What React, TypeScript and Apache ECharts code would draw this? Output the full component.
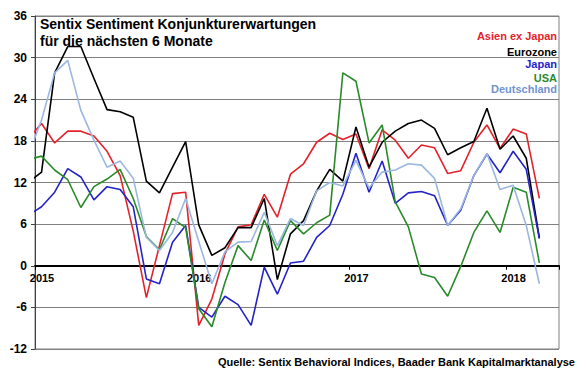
import React, { useEffect, useRef } from "react";
import * as echarts from "echarts";

// Monthly values, Dec 2014 (clipped at the left edge) through Mar 2018
const asienExJapan = [18.3, 20.5, 17.7, 19.4, 19.4, 18.7, 16.5, 13.0, 5.0, -4.6, 2.9, 10.4, 10.6, -8.6, -4.8, 1.7, 5.6, 5.9, 10.3, 7.0, 13.2, 14.7, 17.8, 19.1, 18.2, 19.0, 14.0, 19.6, 18.1, 15.5, 17.4, 17.0, 13.3, 13.7, 17.8, 20.3, 16.9, 19.7, 19.0, 9.7];
const eurozone = [12.0, 13.5, 27.8, 31.6, 31.6, 27.0, 22.5, 22.2, 21.4, 12.2, 10.5, 14.2, 17.9, 5.9, 1.5, 2.6, 5.5, 5.5, 9.7, -2.0, 4.6, 6.5, 10.8, 13.9, 12.2, 20.0, 14.2, 17.8, 19.4, 20.5, 21.0, 19.8, 16.0, 17.0, 17.9, 22.7, 16.8, 18.7, 15.5, 4.0];
const japan = [7.3, 8.5, 10.6, 14.0, 12.8, 9.5, 11.4, 11.0, 8.5, -1.9, -2.6, 3.4, 5.8, -6.0, -7.4, -4.4, -5.6, -8.6, -0.2, -4.1, 0.4, 0.65, 4.1, 5.8, 10.3, 16.2, 10.6, 15.1, 9.0, 10.5, 10.7, 10.1, 5.8, 8.0, 13.0, 16.1, 13.4, 16.5, 13.9, 3.9];
const usa = [15.3, 15.8, 13.8, 12.4, 8.4, 11.4, 12.5, 13.9, 9.7, 4.2, 2.3, 6.8, 5.5, -6.2, -8.8, -2.4, 2.9, 0.75, 6.6, 2.2, 6.5, 4.6, 6.2, 7.3, 27.8, 26.6, 17.7, 20.3, 9.2, 5.6, -1.2, -1.7, -4.4, -0.1, 4.8, 7.9, 4.8, 11.3, 10.6, 0.4];
const deutschland = [16.0, 21.0, 27.8, 29.6, 22.4, 18.1, 14.2, 15.1, 12.6, 4.1, 2.2, 4.8, 9.7, 3.5, -2.6, 2.0, 3.4, 3.5, 7.7, 2.9, 6.8, 5.8, 10.8, 12.0, 11.5, 15.2, 11.2, 13.5, 13.8, 14.7, 14.5, 12.6, 5.8, 8.2, 13.0, 16.2, 11.0, 11.6, 5.8, -2.6];

const firstYear = 2015;
const yTicks = [-12, -6, 0, 6, 12, 18, 24, 30, 36];

const seriesDefs = [
  { name: "Asien ex Japan", data: asienExJapan, color: "#e3232b", label: "#e3232b" },
  { name: "Eurozone", data: eurozone, color: "#000000", label: "#000000" },
  { name: "Japan", data: japan, color: "#2323c8", label: "#2323c8" },
  { name: "USA", data: usa, color: "#2a8a2a", label: "#2a8a2a" },
  { name: "Deutschland", data: deutschland, color: "#9ab7df", label: "#6f94cf" },
];

const FONT = 'Arial, "Liberation Sans", sans-serif';
const GRID_TOP = 16;
const GRID_BOTTOM = 25;
const CHART_H = 374;

export default function App() {
  const ref = useRef<HTMLDivElement>(null);
  useEffect(() => {
    document.body.style.margin = "0";
    const chart = echarts.init(ref.current!, undefined, { renderer: "svg" });
    // month k of the arrays (k=0 is Dec 2014) sits at mid-month: x = k - 0.5 months after 1 Jan 2015
    const toPoints = (arr: number[]) => arr.map((v, k) => [k - 0.5, v]);
    const legendY = [36, 52, 64, 78, 89];
    const yMin = yTicks[0];
    const yMax = yTicks[yTicks.length - 1];
    const plotH = CHART_H - GRID_TOP - GRID_BOTTOM;
    // lift the time axis (line, ticks and labels) up to the zero line
    const zeroOffset = -plotH * (0 - yMin) / (yMax - yMin);
    chart.setOption({
      animation: false,
      backgroundColor: "#ffffff",
      textStyle: { fontFamily: FONT },
      grid: {
        left: 35, right: 21, top: GRID_TOP, bottom: GRID_BOTTOM,
        show: true, borderColor: "#808080", borderWidth: 1, containLabel: false,
      },
      xAxis: {
        type: "value", min: 0, max: 40, interval: 12,
        position: "bottom",
        offset: zeroOffset,
        axisLine: { onZero: false, lineStyle: { color: "#000", width: 2 } },
        axisTick: { show: true, length: 4, lineStyle: { color: "#000", width: 1 } },
        axisLabel: {
          formatter: (v: number) => (v % 12 === 0 ? String(firstYear + v / 12) : ""),
          fontWeight: "bold", fontSize: 11, color: "#000", margin: 7,
          padding: [0, 0, 0, 14], fontFamily: FONT,
        },
        splitLine: { show: false },
      },
      yAxis: {
        type: "value", min: yMin, max: yMax, interval: 6,
        axisLine: { show: true, lineStyle: { color: "#404040", width: 1 } },
        axisTick: { show: true, length: 4, lineStyle: { color: "#404040" } },
        axisLabel: { fontWeight: "bold", fontSize: 12, color: "#000", margin: 8, fontFamily: FONT },
        splitLine: { show: true, lineStyle: { color: "#808080", width: 1 } },
      },
      series: seriesDefs.map((s) => ({
        name: s.name,
        type: "line",
        data: toPoints(s.data),
        showSymbol: false,
        symbol: "none",
        clip: true,
        lineStyle: { color: s.color, width: 1.6 },
        itemStyle: { color: s.color },
      })),
      graphic: [
        {
          type: "text", left: 40, top: 15,
          style: {
            text: "Sentix Sentiment Konjunkturerwartungen\nfür die nächsten 6 Monate",
            font: `bold 14px ${FONT}`, fill: "#000", lineHeight: 17.5,
          },
        },
        ...seriesDefs.map((s, i) => ({
          type: "text", x: 557, y: legendY[i],
          style: {
            text: s.name, font: `bold 11px ${FONT}`, fill: s.label,
            textAlign: "right", textVerticalAlign: "middle",
          },
        })),
        {
          type: "text", x: 575, y: 362,
          style: {
            text: "Quelle: Sentix Behavioral Indices, Baader Bank Kapitalmarktanalyse",
            font: `bold 11px ${FONT}`, fill: "#000",
            textAlign: "right", textVerticalAlign: "middle",
          },
        },
      ],
    });
    return () => chart.dispose();
  }, []);
  return (
    <div
      ref={ref}
      style={{ position: "absolute", left: 0, top: 0, width: 580, height: CHART_H }}
    />
  );
}
